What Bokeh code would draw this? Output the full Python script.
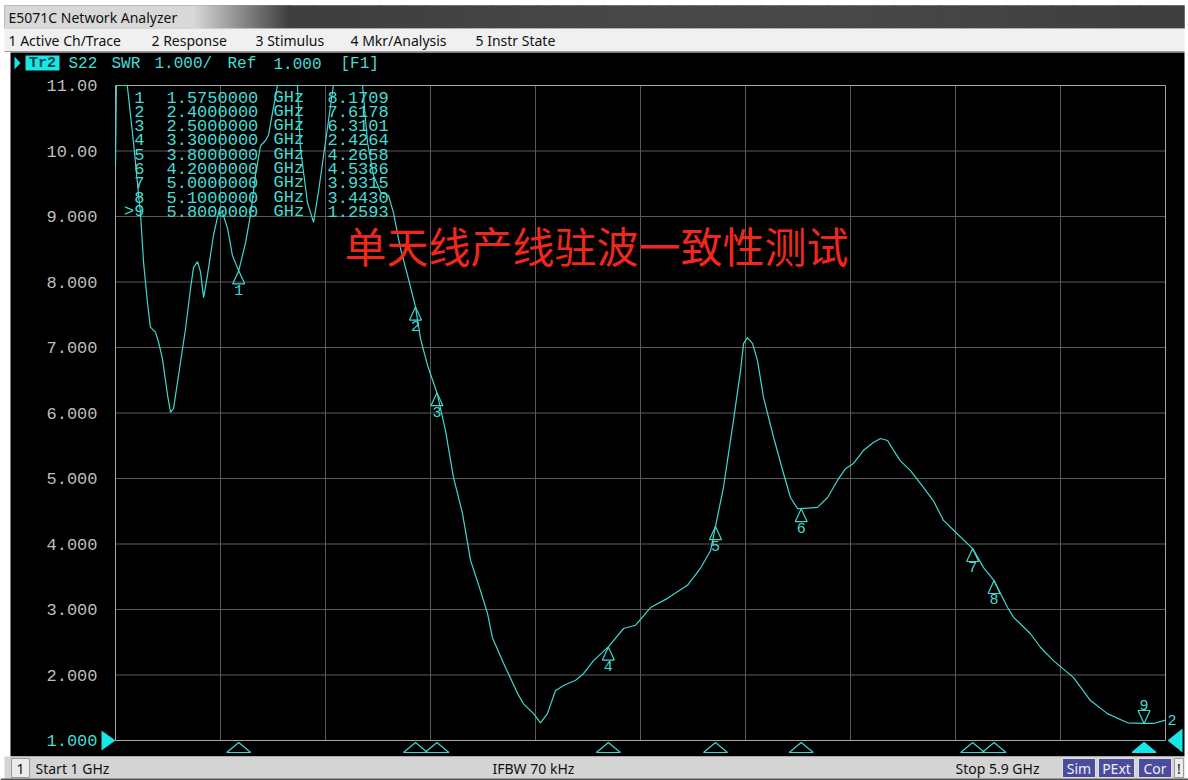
import numpy as np
from bokeh.plotting import figure
from bokeh.models import Range1d
from bokeh.core.properties import value
from bokeh.embed import file_html
from bokeh.resources import INLINE

# ---------------- data ----------------
freq_ghz = [1.000, 1.004, 1.055, 1.084, 1.117, 1.131, 1.149, 1.163, 1.187, 1.201,
            1.219, 1.243, 1.257, 1.271, 1.294, 1.327, 1.350, 1.364, 1.383, 1.397,
            1.411, 1.429, 1.457, 1.481, 1.499, 1.523, 1.546, 1.575, 1.607, 1.630,
            1.653, 1.677, 1.700, 1.714, 1.733, 1.756, 1.849, 1.863, 1.896, 1.924,
            1.947, 1.971, 2.017, 2.153, 2.176, 2.204, 2.237, 2.274, 2.297, 2.330,
            2.363, 2.400, 2.423, 2.456, 2.500, 2.540, 2.577, 2.619, 2.657, 2.703,
            2.736, 2.759, 2.811, 2.876, 2.904, 2.951, 2.983, 3.016, 3.053, 3.091,
            3.147, 3.184, 3.231, 3.300, 3.371, 3.427, 3.497, 3.576, 3.669, 3.730,
            3.777, 3.800, 3.837, 3.884, 3.917, 3.931, 3.949, 3.973, 3.996, 4.024,
            4.071, 4.117, 4.150, 4.183, 4.200, 4.276, 4.323, 4.369, 4.407, 4.444,
            4.491, 4.537, 4.570, 4.603, 4.631, 4.663, 4.710, 4.771, 4.817, 4.864,
            4.911, 5.000, 5.051, 5.100, 5.163, 5.191, 5.270, 5.317, 5.377, 5.471,
            5.550, 5.629, 5.723, 5.800, 5.844, 5.900]
swr = [9.78, 11.0, 11.0, 10.13, 9.02, 8.30, 7.69, 7.31, 7.23, 7.08,
       6.83, 6.27, 6.01, 6.07, 6.57, 7.29, 7.90, 8.22, 8.31, 8.15,
       7.76, 8.10, 8.71, 9.06, 9.06, 8.82, 8.40, 8.17, 8.60, 9.02,
       9.63, 10.08, 10.16, 10.24, 10.59, 11.0, 11.0, 10.04, 9.21, 8.91,
       9.37, 9.93, 11.0, 11.0, 10.13, 9.63, 9.37, 9.32, 9.06, 8.51,
       8.10, 7.62, 7.14, 6.73, 6.31, 5.73, 5.02, 4.47, 3.75, 3.29,
       2.94, 2.57, 2.18, 1.72, 1.56, 1.41, 1.27, 1.41, 1.76, 1.84,
       1.92, 2.02, 2.22, 2.43, 2.71, 2.76, 3.03, 3.17, 3.37, 3.63,
       3.90, 4.27, 4.86, 5.89, 6.65, 7.06, 7.15, 7.06, 6.80, 6.24,
       5.63, 5.08, 4.71, 4.54, 4.54, 4.56, 4.71, 4.97, 5.15, 5.23,
       5.43, 5.55, 5.61, 5.58, 5.43, 5.27, 5.12, 4.86, 4.66, 4.36,
       4.21, 3.93, 3.64, 3.44, 3.03, 2.88, 2.63, 2.42, 2.22, 1.96,
       1.61, 1.41, 1.27, 1.26, 1.26, 1.31]

marker_ids = [1, 2, 3, 4, 5, 6, 7, 8, 9]
marker_freq_ghz = [1.575, 2.400, 2.500, 3.300, 3.800, 4.200, 5.000, 5.100, 5.800]
marker_swr = [8.1709, 7.6178, 6.3101, 2.4264, 4.2658, 4.5386, 3.9315, 3.4430, 1.2593]
active_marker = 9

swr_ticks = [1, 2, 3, 4, 5, 6, 7, 8, 9, 10, 11]
swr_tick_labels = ["1.000", "2.000", "3.000", "4.000", "5.000", "6.000",
                   "7.000", "8.000", "9.000", "10.00", "11.00"]
freq_start, freq_stop, freq_divisions = 1.0, 5.9, 10
swr_min, swr_max = 1.0, 11.0

chart_title = "单天线产线驻波一致性测试"
window_title = "E5071C Network Analyzer"
menu_items = ["1 Active Ch/Trace", "2 Response", "3 Stimulus", "4 Mkr/Analysis", "5 Instr State"]
trace_name = "Tr2"
trace_header = ["S22", "SWR", "1.000/", "Ref", "1.000", "[F1]"]
trace_number = "2"
status_channel = "1"
status_start = "Start 1 GHz"
status_ifbw = "IFBW 70 kHz"
status_stop = "Stop 5.9 GHz"
status_flags = ["Sim", "PExt", "Cor"]

# ---------------- layout / style ----------------
W, H = 1188, 780
BL, BR, BT, BB = 115, 1165, 85, 740          # grid box in page pixels
gpx = (freq_stop - freq_start) / (BR - BL)   # GHz per pixel
spx = (swr_max - swr_min) / (BB - BT)        # SWR per pixel

CY = "#3fd8cf"
CY_TXT = "#45dcd6"
MONO = value("Liberation Mono")
UI = value("Noto Sans")


def grey(g):
    g = int(max(0, min(255, g)))
    return "#%02x%02x%02x" % (g, g, g)


p = figure(width=W, height=H, x_range=Range1d(0, W), y_range=Range1d(H, 0),
           output_backend="svg", toolbar_location=None, min_border=0,
           x_axis_type=None, y_axis_type=None, title_location=None,
           background_fill_color="#ffffff", border_fill_color="#ffffff",
           outline_line_color=None)
p.extra_x_ranges = {"f": Range1d(freq_start - BL * gpx, freq_stop + (W - BR) * gpx)}
p.extra_y_ranges = {"s": Range1d(swr_min - (H - BB) * spx, swr_max + BT * spx)}

# window title bar (light tab fading into a dark bar)
p.quad(left=[4], right=[W - 4], top=[5], bottom=[28], fill_color="#3e3e3e", line_color=None)
n = 40
edges = np.linspace(193, 290, n + 1)
cols = [grey(214 - (214 - 62) * k / (n - 1)) for k in range(n)]
p.quad(left=edges[:-1], right=edges[1:] + 1.5, top=5, bottom=28, fill_color=cols,
       line_color=None)
n2 = 40
edges2 = np.linspace(290, W - 4, n2 + 1)
cols2 = [grey(62 + 10 * np.sin(np.pi * k / (n2 - 1))) for k in range(n2)]
p.quad(left=edges2[:-1], right=np.minimum(edges2[1:] + 1.5, W - 4), top=5, bottom=28,
       fill_color=cols2, line_color=None)
p.quad(left=[4], right=[194], top=[5], bottom=[28], fill_color="#d8d8d8", line_color=None)
p.text(x=[8], y=[17], text=[window_title], text_font=UI, text_font_size="14px",
       text_color="#111111", text_baseline="middle")

# menu bar
p.quad(left=[4], right=[W - 4], top=[28], bottom=[51], fill_color="#f0f0f0", line_color=None)
p.segment(x0=[4], y0=[51], x1=[W - 4], y1=[51], line_color="#9a9a9a")
p.text(x=[8, 151, 255, 350, 475], y=[40] * 5, text=menu_items, text_font=UI,
       text_font_size="14px", text_color="#111111", text_baseline="middle")

# black instrument screen
p.quad(left=[10], right=[W - 4], top=[52], bottom=[756], fill_color="#000000", line_color=None)

# trace header
p.patch(x=[14, 14, 20], y=[56, 69, 62.5], fill_color="#19e6e6", line_color=None)
p.quad(left=[25], right=[59], top=[55], bottom=[70], fill_color="#19e6e6", line_color=None)
p.text(x=[42], y=[63], text=[trace_name], text_font=MONO, text_font_size="15px",
       text_font_style="bold", text_color="#004848", text_align="center", text_baseline="middle")
p.text(x=[68, 111, 154, 227, 273, 340], y=[63] * 6, text=trace_header, text_font=MONO,
       text_font_size="16px", text_color=CY_TXT, text_baseline="middle")

# grid
freq_grid = np.linspace(freq_start, freq_stop, freq_divisions + 1)
p.segment(x0=freq_grid[1:-1], y0=swr_min, x1=freq_grid[1:-1], y1=swr_max,
          x_range_name="f", y_range_name="s", line_color="#5a5a5a", line_width=1)
p.segment(x0=freq_start, y0=swr_ticks[1:-1], x1=freq_stop, y1=swr_ticks[1:-1],
          x_range_name="f", y_range_name="s", line_color="#5a5a5a", line_width=1)
p.quad(left=[freq_start], right=[freq_stop], bottom=[swr_min], top=[swr_max],
       x_range_name="f", y_range_name="s", fill_color=None, line_color="#a6a6a6", line_width=1)

# y tick labels
p.text(x=[97] * (len(swr_ticks) - 1), y=swr_ticks[1:], text=swr_tick_labels[1:],
       y_range_name="s", text_font=MONO, text_font_size="17px", text_color="#bdbdbd",
       text_align="right", text_baseline="middle")
p.text(x=[97], y=[swr_ticks[0]], text=[swr_tick_labels[0]], y_range_name="s",
       text_font=MONO, text_font_size="17px", text_color=CY_TXT,
       text_align="right", text_baseline="middle")

# reference level arrows
p.patch(x=[101, 101, BL], y=[BB - 10, BB + 10, BB], fill_color="#19e6e6", line_color=None)
p.patch(x=[W - 6, W - 6, BR + 2], y=[BB - 12, BB + 12, BB], fill_color="#19e6e6", line_color=None)

# trace
p.line(x=freq_ghz, y=np.clip(swr, swr_min, swr_max), x_range_name="f", y_range_name="s",
       line_color=CY, line_width=1.2)
p.text(x=[freq_stop + 2 * gpx], y=[swr[-1]], text=[trace_number], x_range_name="f",
       y_range_name="s", text_font=MONO, text_font_size="15px", text_color=CY_TXT,
       text_baseline="middle")

# markers on trace
dx, hh = 6 * gpx, 13 * spx
norm = [i for i, m in enumerate(marker_ids) if m != active_marker]
act = [i for i, m in enumerate(marker_ids) if m == active_marker]
p.patches(xs=[[marker_freq_ghz[i], marker_freq_ghz[i] - dx, marker_freq_ghz[i] + dx] for i in norm],
          ys=[[marker_swr[i], marker_swr[i] - hh, marker_swr[i] - hh] for i in norm],
          x_range_name="f", y_range_name="s", fill_color=None, line_color=CY, line_width=1.2)
p.patches(xs=[[marker_freq_ghz[i], marker_freq_ghz[i] - dx, marker_freq_ghz[i] + dx] for i in act],
          ys=[[marker_swr[i], marker_swr[i] + hh, marker_swr[i] + hh] for i in act],
          x_range_name="f", y_range_name="s", fill_color=None, line_color=CY, line_width=1.2)
p.text(x=[marker_freq_ghz[i] for i in norm], y=[marker_swr[i] - hh - 1 * spx for i in norm],
       text=[str(marker_ids[i]) for i in norm], x_range_name="f", y_range_name="s",
       text_font=MONO, text_font_size="15px", text_color=CY_TXT,
       text_align="center", text_baseline="top")
p.text(x=[marker_freq_ghz[i] for i in act], y=[marker_swr[i] + hh + 1 * spx for i in act],
       text=[str(marker_ids[i]) for i in act], x_range_name="f", y_range_name="s",
       text_font=MONO, text_font_size="15px", text_color=CY_TXT,
       text_align="center", text_baseline="bottom")

# marker position triangles under the grid
bdx = 12 * gpx
p.patches(xs=[[marker_freq_ghz[i] - bdx, marker_freq_ghz[i] + bdx, marker_freq_ghz[i]] for i in norm],
          ys=[[752, 752, 742] for i in norm], x_range_name="f",
          fill_color=None, line_color=CY, line_width=1.2)
p.patches(xs=[[marker_freq_ghz[i] - bdx, marker_freq_ghz[i] + bdx, marker_freq_ghz[i]] for i in act],
          ys=[[752, 752, 742] for i in act], x_range_name="f",
          fill_color="#19e6e6", line_color="#19e6e6", line_width=1.2)

# marker table
row_y = [96.5 + 14.3 * k for k in range(len(marker_ids))]
idx_txt = [(">" if m == active_marker else "") + str(m) for m in marker_ids]
TBL = "17px"
p.text(x=[144] * len(row_y), y=row_y, text=idx_txt, text_font=MONO, text_font_size=TBL,
       text_color=CY_TXT, text_align="right", text_baseline="middle")
p.text(x=[166] * len(row_y), y=row_y, text=[f"{f:.7f}" for f in marker_freq_ghz],
       text_font=MONO, text_font_size=TBL, text_color=CY_TXT, text_baseline="middle")
p.text(x=[273] * len(row_y), y=row_y, text=["GHz"] * len(row_y),
       text_font=MONO, text_font_size=TBL, text_color=CY_TXT, text_baseline="middle")
p.text(x=[327] * len(row_y), y=row_y, text=[f"{v:.4f}" for v in marker_swr],
       text_font=MONO, text_font_size=TBL, text_color=CY_TXT, text_baseline="middle")

# chinese caption
p.text(x=[344], y=[244], text=[chart_title], text_font=value("Noto Sans CJK SC"),
       text_font_size="42px", text_color="#f0281c", text_baseline="middle")

# status bar
p.quad(left=[4], right=[W - 4], top=[756], bottom=[778], fill_color="#d4d4d4", line_color=None)
p.quad(left=[0], right=[W], top=[778], bottom=[780], fill_color="#505050", line_color=None)
p.quad(left=[11], right=[29], top=[758], bottom=[777], fill_color="#ececec", line_color="#9a9a9a")
p.text(x=[20], y=[768], text=[status_channel], text_font=UI, text_font_size="14px",
       text_color="#111111", text_align="center", text_baseline="middle")
p.text(x=[35, 492, 955], y=[768] * 3, text=[status_start, status_ifbw, status_stop],
       text_font=UI, text_font_size="14px", text_color="#111111", text_baseline="middle")
flag_l = [1062, 1098, 1138]
flag_r = [1095, 1134, 1171]
p.quad(left=flag_l, right=flag_r, top=758, bottom=777, fill_color="#4c4c9c", line_color="#e0e0e0")
p.text(x=[(a + b) / 2 for a, b in zip(flag_l, flag_r)], y=[768] * 3, text=status_flags,
       text_font=UI, text_font_size="14px", text_color="#eeeeff", text_align="center",
       text_baseline="middle")
p.quad(left=[1174], right=[1183], top=[758], bottom=[777], fill_color="#ececec", line_color="#9a9a9a")
p.text(x=[1178.5], y=[768], text=["!"], text_font=UI, text_font_size="14px",
       text_color="#111111", text_align="center", text_baseline="middle")

open("out.html", "w").write(file_html(p, INLINE))
